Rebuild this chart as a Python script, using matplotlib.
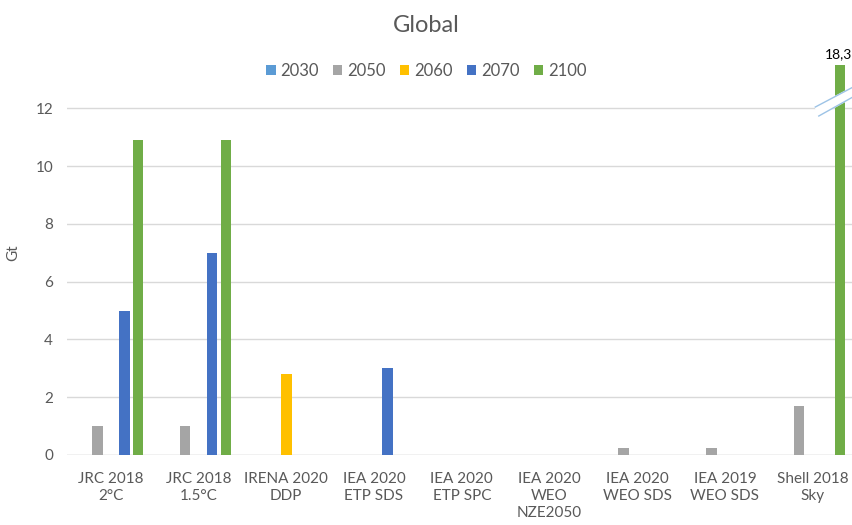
import matplotlib.pyplot as plt
import numpy as np

plt.rcParams['font.family'] = ['Lato', 'DejaVu Sans']

categories = ['JRC 2018\n2°C', 'JRC 2018\n1.5°C', 'IRENA 2020\nDDP', 'IEA 2020\nETP SDS',
              'IEA 2020\nETP SPC', 'IEA 2020\nWEO\nNZE2050', 'IEA 2020\nWEO SDS',
              'IEA 2019\nWEO SDS', 'Shell 2018\nSky']
years = ['2030', '2050', '2060', '2070', '2100']
v2030 = [0, 0, 0, 0, 0, 0, 0, 0, 0]
v2050 = [1.0, 1.0, 0, 0, 0, 0, 0.25, 0.25, 1.7]
v2060 = [0, 0, 2.8, 0, 0, 0, 0, 0, 0]
v2070 = [5.0, 7.0, 0, 3.0, 0, 0, 0, 0, 0]
v2100 = [10.9, 10.9, 0, 0, 0, 0, 0, 0, 18.3]
colors = ['#5B9BD5', '#A5A5A5', '#FFC000', '#4472C4', '#70AD47']

cap = 13.5  # axis is broken, tall bar drawn up to here
txt = '#595959'

fig = plt.figure(figsize=(8.53, 5.25), dpi=100)
ax = fig.add_axes([67/853, 1-455/525, 786/853, (455-50.4)/525])

x = np.arange(len(categories))
slot = 0.155
w = 0.12
series = [v2030, v2050, v2060, v2070, v2100]
for i, (vals, c, yr) in enumerate(zip(series, colors, years)):
    shown = [min(v, cap) for v in vals]
    ax.bar(x + (i-2)*slot, shown, width=w, color=c, label=yr, zorder=2)

# broken bar for Shell 2100
k = len(categories) - 1
bx = x[k] + 2*slot
big = v2100[k]
ax.text(bx - 0.02, cap + 0.15, f'{big:.1f}'.replace('.', ','), ha='center', va='bottom',
        fontsize=10, color='black')
x0, x1 = 8.03, 8.46
ax.fill([x0, x1, x1, x0+0.04], [12.04, 12.73, 12.39, 11.73], color='white', zorder=3, clip_on=False)
ax.plot([x0, x1], [12.04, 12.73], color='#9DC3E6', lw=1, zorder=4, clip_on=False)
ax.plot([x0+0.04, x1], [11.73, 12.39], color='#9DC3E6', lw=1, zorder=4, clip_on=False)

ax.set_xlim(-0.5, 8.46)
ax.set_ylim(0, 14)
ax.set_yticks(range(0, 13, 2))
ax.set_xticks(x)
ax.set_xticklabels(categories, fontsize=11, color=txt, linespacing=1.3)
ax.tick_params(axis='both', length=0, labelcolor=txt, labelsize=11)
ax.tick_params(axis='x', pad=12)
ax.tick_params(axis='y', pad=10)
ax.grid(axis='y', color='#D9D9D9', lw=1, zorder=0)
for s in ax.spines.values():
    s.set_visible(False)
ax.axhline(0, color='#D9D9D9', lw=1, zorder=1)
ax.set_ylabel('Gt', fontsize=11, color=txt, labelpad=11)

fig.text(0.5, 1-25/525, 'Global', ha='center', va='center', fontsize=17, color=txt)
fig.legend(loc='center', bbox_to_anchor=(0.5, 1-71/525), ncol=5, frameon=False,
           fontsize=12, labelcolor=txt, handlelength=0.55, handleheight=0.55,
           handletextpad=0.3, columnspacing=0.85)

fig.savefig('out.png', dpi=100)
